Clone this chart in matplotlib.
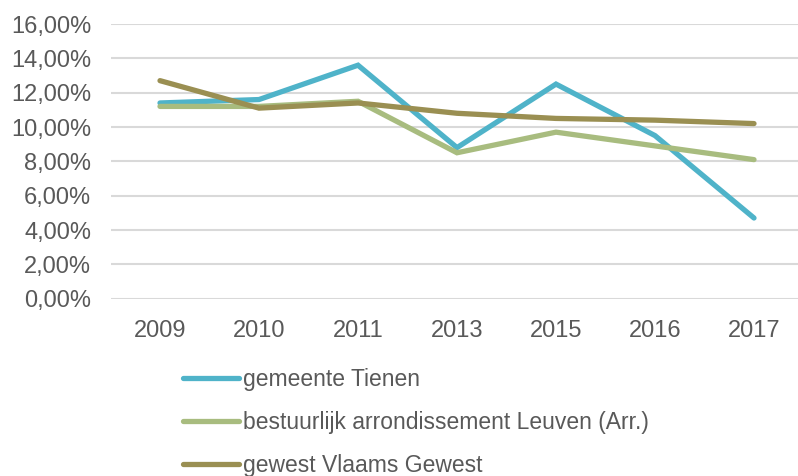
import matplotlib.pyplot as plt
from matplotlib.ticker import FuncFormatter

plt.rcParams['font.family'] = ['Liberation Sans', 'DejaVu Sans']

jaren = ["2009", "2010", "2011", "2013", "2015", "2016", "2017"]
tienen = [11.4, 11.6, 13.6, 8.8, 12.5, 9.5, 4.7]
leuven = [11.2, 11.2, 11.5, 8.5, 9.7, 8.9, 8.1]
vlaanderen = [12.7, 11.1, 11.4, 10.8, 10.5, 10.4, 10.2]

labels = ["gemeente Tienen",
          "bestuurlijk arrondissement Leuven (Arr.)",
          "gewest Vlaams Gewest"]
kleuren = ["#4FB3C9", "#A8BC7F", "#9A8F52"]
tekstkleur = "#595959"

fig = plt.figure(figsize=(7.98, 4.76), dpi=100)
ax = fig.add_axes([110.5 / 798, (476 - 298.7) / 476, 693 / 798, (298.7 - 24) / 476])

x = range(len(jaren))
for reeks, label, kleur in zip([tienen, leuven, vlaanderen], labels, kleuren):
    ax.plot(x, [v / 100 for v in reeks], color=kleur, lw=3.8, label=label,
            solid_capstyle='round', solid_joinstyle='miter')

ax.set_xlim(-0.5, len(jaren) - 0.5)
ax.set_ylim(0, 0.16)
ax.set_yticks([i * 0.02 for i in range(9)])
ax.yaxis.set_major_formatter(FuncFormatter(lambda v, p: f"{v * 100:.2f}%".replace(".", ",")))
ax.set_xticks(list(x))
ax.set_xticklabels(jaren)
ax.grid(axis='y', color='#D9D9D9', lw=1.5)
ax.set_axisbelow(True)
for s in ax.spines.values():
    s.set_visible(False)
ax.tick_params(length=0, labelsize=17, colors=tekstkleur, pad=14)
ax.tick_params(axis='x', pad=15)

fig.legend(loc='upper left', bbox_to_anchor=(174 / 798, 1 - 359 / 476), frameon=False,
           fontsize=16.5, labelcolor=tekstkleur, handlelength=2.45, handletextpad=0.17,
           labelspacing=0.86, borderaxespad=0)

fig.savefig("out.png", dpi=100)
